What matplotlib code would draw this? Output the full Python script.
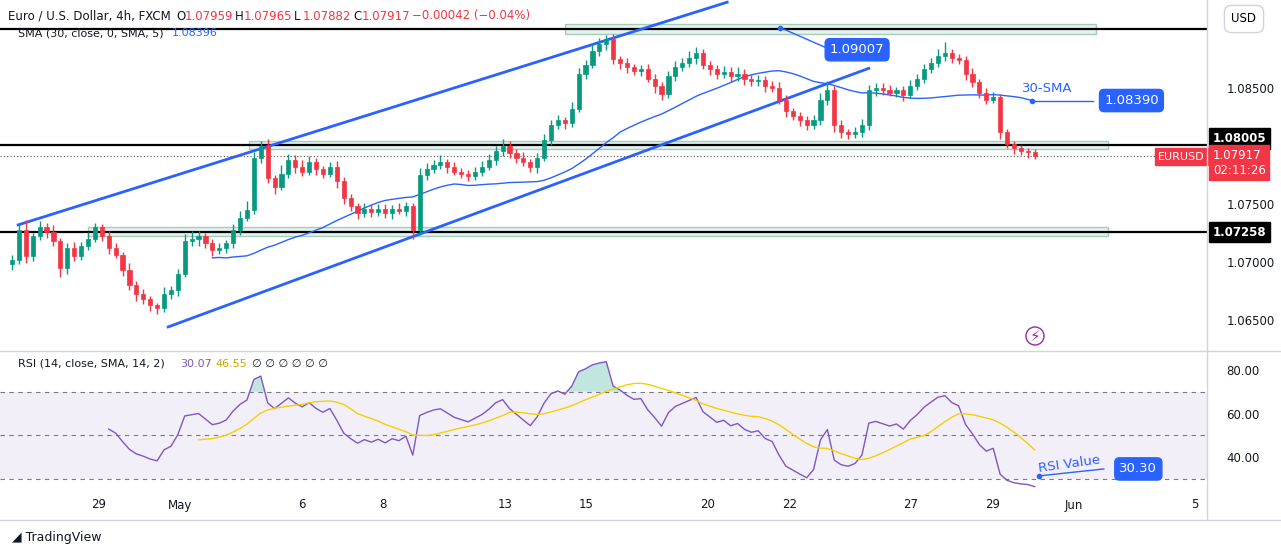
import numpy as np
import matplotlib
matplotlib.use("Agg")
import matplotlib.pyplot as plt
from matplotlib.patches import Rectangle
import matplotlib.transforms as mtrans

# ---------------- data ----------------
closes = [
 1.0702,1.0728,1.0705,1.0722,1.0730,1.0726,
 1.0718,1.0695,1.0712,1.0705,1.0714,1.0720,
 1.0730,1.0722,1.0712,1.0706,1.0693,1.0680,
 1.0672,1.0668,1.0663,1.0660,1.0672,1.0676,
 1.0690,1.0718,1.0720,1.0722,1.0716,1.0710,
 1.0712,1.0716,1.0728,1.0738,1.0745,1.0790,
 1.0800,1.0772,1.0765,1.0776,1.0788,1.0782,
 1.0778,1.0786,1.0780,1.0776,1.0782,1.0770,
 1.0755,1.0748,1.0742,1.0746,1.0743,1.0746,
 1.0742,1.0746,1.0744,1.0748,1.0728,1.0775,
 1.0780,1.0784,1.0786,1.0782,1.0778,1.0776,
 1.0774,1.0778,1.0782,1.0788,1.0796,1.0800,
 1.0794,1.0790,1.0786,1.0782,1.0790,1.0805,
 1.0818,1.0822,1.0820,1.0832,1.0862,1.0870,
 1.0882,1.0888,1.0892,1.0875,1.0872,1.0868,
 1.0865,1.0866,1.0858,1.0852,1.0845,1.0860,
 1.0868,1.0872,1.0876,1.0880,1.0870,1.0866,
 1.0862,1.0864,1.0860,1.0862,1.0858,1.0856,
 1.0857,1.0852,1.0850,1.0840,1.0830,1.0826,
 1.0822,1.0818,1.0822,1.0840,1.0848,1.0818,
 1.0812,1.0810,1.0812,1.0818,1.0848,1.0850,
 1.0848,1.0846,1.0848,1.0844,1.0852,1.0858,
 1.0866,1.0872,1.0878,1.0880,1.0876,1.0874,
 1.0862,1.0855,1.0846,1.0840,1.0842,1.0812,
 1.0802,1.0798,1.0796,1.0795,1.07917]
first_open = 1.0698
# wick sizes in pips (upper, lower)
up_wick = [
 4,6,8,3,5,4, 6,3,4,5,3,6, 4,3,5,4,3,6, 4,5,3,2,6,3,
 4,6,7,5,3,4, 4,3,5,6,8,5, 4,6,3,8,5,4, 6,5,4,3,4,5,
 3,4,3,5,4,4, 4,3,5,4,3,6, 5,4,6,3,4,3, 3,4,5,5,4,6,
 4,3,5,3,4,5, 4,5,3,6,5,4, 6,5,4,5,3,4, 3,4,5,4,3,5,
 5,4,6,5,4,3, 4,5,4,6,4,3, 4,3,4,5,4,3, 3,4,5,6,8,4,
 4,3,4,5,5,4, 4,5,3,4,5,4, 5,4,6,10,4,3, 4,5,3,4,5,3,
 3,2,3,2,2]
dn_wick = [
 5,4,6,4,3,5, 4,8,5,4,3,4, 3,4,5,3,5,4, 6,4,5,5,3,4,
 5,3,4,6,4,5, 3,4,4,5,3,4, 5,4,6,3,4,5, 4,3,5,4,3,6,
 5,4,5,3,4,3, 4,5,3,4,8,5, 4,3,4,5,3,4, 4,3,4,3,4,5,
 4,5,3,4,5,3, 4,3,5,4,3,4, 3,4,5,4,6,5, 4,5,3,6,5,4,
 4,3,4,5,4,5, 4,3,5,4,5,4, 4,5,3,4,5,4, 5,4,3,4,5,6,
 5,4,3,4,4,5, 4,3,4,5,3,4, 4,3,4,5,4,3, 5,4,5,4,3,6,
 4,5,4,5,3]

tick_labels = ["29", "May", "6", "8", "13", "15", "20", "22", "27", "29", "Jun", "5"]
tick_days = [0, 2, 5, 7, 10, 12, 15, 17, 20, 22, 24, 27]
price_ticks = [1.065, 1.070, 1.075, 1.085]
rsi_ticks = [40, 60, 80]
levels = [1.09007, 1.08005, 1.07258]
sma_last, rsi_last = 1.08390, 30.30
# channel anchors (candle index, price)
upper_chan = [(0.9, 1.0732), (103.5, 1.0924)]
lower_chan = [(22.6, 1.0644), (124.0, 1.0867)]

# ---------------- computations ----------------
c = np.array(closes)
o = np.array([first_open] + closes[:-1])
h = np.maximum(o, c) + np.array(up_wick) * 1e-4
l = np.minimum(o, c) - np.array(dn_wick) * 1e-4
n = len(c)
x = np.arange(n)
sma = np.full(n, np.nan)
for i in range(29, n):
    sma[i] = c[i-29:i+1].mean()
d = np.diff(c)
gain = np.where(d > 0, d, 0.0); loss = np.where(d < 0, -d, 0.0)
rsi = np.full(n, np.nan)
ag, al = gain[:14].mean(), loss[:14].mean()
rsi[14] = 100 - 100 / (1 + ag / al)
for i in range(15, n):
    ag = (ag * 13 + gain[i-1]) / 14; al = (al * 13 + loss[i-1]) / 14
    rsi[i] = 100 - 100 / (1 + ag / al)
rsi_ma = np.full(n, np.nan)
for i in range(27, n):
    rsi_ma[i] = np.nanmean(rsi[i-13:i+1])

# ---------------- figure ----------------
W, H = 1281, 554
fig = plt.figure(figsize=(W/100, H/100), dpi=100)
fig.patch.set_facecolor("white")
px = 6.91
x0 = -12/px
x1 = (1207-12)/px
tick_pos = [(99-12)/px + dd*40.6/px for dd in tick_days]

ax = fig.add_axes([0, 1-350/H, 1207/W, 350/H])
ax2 = fig.add_axes([0, 1-492/H, 1207/W, 140/H])
GREEN, RED, BLUE = "#089981", "#f23645", "#2962ff"

for a in (ax, ax2):
    a.set_xlim(x0, x1)
    for s in a.spines.values():
        s.set_visible(False)
    a.yaxis.tick_right()
    a.tick_params(axis="y", length=0, labelsize=8.5, colors="#131722", pad=14)
    a.tick_params(axis="x", length=0)
    a.set_xticks([])

ax.set_ylim(1.06241, 1.09259)
ax.set_yticks(price_ticks)
ax.set_yticklabels([f"{v:.5f}" for v in price_ticks])

# rectangles (zones)
zones = [(80.0, 156.9, 1.0897, 1.0905), (34.3, 158.6, 1.0797, 1.0804), (11.0, 158.6, 1.0722, 1.0730)]
for xa, xb, ya, yb in zones:
    ax.add_patch(Rectangle((xa, ya), xb-xa, yb-ya, facecolor="#b2dfdb", alpha=0.35,
                           edgecolor="#1b7a3a", lw=1, zorder=2))
for lv in levels:
    ax.axhline(lv, color="black", lw=1.6, zorder=3)
for (xa, ya), (xb, yb) in (upper_chan, lower_chan):
    ax.plot([xa, xb], [ya, yb], color=BLUE, lw=2, zorder=3)
ax.plot(x, sma, color=BLUE, lw=1, zorder=4)
for i in range(n):
    col = GREEN if c[i] >= o[i] else RED
    ax.vlines(x[i], l[i], h[i], color=col, lw=1, zorder=5)
    ax.add_patch(Rectangle((x[i]-0.3, min(o[i], c[i])), 0.6, max(abs(c[i]-o[i]), 1.2e-5),
                           facecolor=col, edgecolor=col, lw=0.5, zorder=6))
ax.axhline(c[-1], color="#555", lw=0.8, ls=(0, (1, 2)), zorder=3)

# callouts
ax.plot([111.2, 118.5], [1.0902, 1.0883], color=BLUE, lw=1, zorder=7)
ax.plot([111.2], [1.0902], "o", color=BLUE, ms=3, zorder=7)
ax.text(122.3, 1.0883, "1.09007", color="white", fontsize=9.5, ha="center", va="center",
        bbox=dict(boxstyle="round,pad=0.35", fc=BLUE, ec=BLUE), zorder=8)
ax.text(149.8, 1.0850, "30-SMA", color=BLUE, fontsize=9.5, ha="center", va="center", zorder=8)
ax.plot([147.6, 156.5], [1.08392, 1.08392], color=BLUE, lw=1, zorder=7)
ax.plot([147.6], [1.08392], "o", color=BLUE, ms=3, zorder=7)
ax.text(162.0, 1.08392, f"{sma_last:.5f}", color="white", fontsize=9.5, ha="center", va="center",
        bbox=dict(boxstyle="round,pad=0.35", fc=BLUE, ec=BLUE), zorder=8)

# right axis labels
tr = mtrans.blended_transform_factory(ax.transAxes, ax.transData)
ax.text(1.005, levels[1] + 0.0006, f"{levels[1]:.5f}", transform=tr, color="white", fontsize=8.5,
        fontweight="bold", ha="left", va="center",
        bbox=dict(boxstyle="square,pad=0.3", fc="black", ec="black"), zorder=9, clip_on=False)
ax.text(1.005, levels[2], f"{levels[2]:.5f}", transform=tr, color="white", fontsize=8.5,
        fontweight="bold", ha="left", va="center",
        bbox=dict(boxstyle="square,pad=0.3", fc="black", ec="black"), zorder=9, clip_on=False)
ax.text(0.998, c[-1] - 0.0001, "EURUSD", transform=tr, color="white", fontsize=8, ha="right", va="center",
        bbox=dict(boxstyle="square,pad=0.3", fc=RED, ec=RED), clip_on=False, zorder=9)
ax.text(1.005, c[-1] - 0.0006, f"{c[-1]:.5f}\n02:11:26", transform=tr, color="white", fontsize=8.5,
        ha="left", va="center", linespacing=1.2,
        bbox=dict(boxstyle="square,pad=0.3", fc=RED, ec=RED), clip_on=False, zorder=9)
fig.text(1244/W, 1-19/H, "USD", fontsize=8.5, ha="center", va="center",
         bbox=dict(boxstyle="round,pad=0.6", fc="white", ec="#d1d4dc"))
fig.text(1035/W, 1-336/H, "⚡", fontsize=11, color="#9c27b0", ha="center", va="center",
         fontfamily="DejaVu Sans",
         bbox=dict(boxstyle="circle,pad=0.1", fc="white", ec="#9c27b0"))

# headers
fig.text(8/W, 1-16/H, "Euro / U.S. Dollar, 4h, FXCM", fontsize=8.5, color="#131722", va="center")
hx = 176
for lab, val in [("O", "1.07959"), ("H", "1.07965"), ("L", "1.07882"), ("C", "1.07917")]:
    fig.text(hx/W, 1-16/H, lab, fontsize=8.5, color="#131722", va="center")
    fig.text((hx+9)/W, 1-16/H, val, fontsize=8.5, color=RED, va="center")
    hx += 59
fig.text(hx/W, 1-16/H, "−0.00042 (−0.04%)", fontsize=8.5, color=RED, va="center")
fig.text(18/W, 1-33/H, "SMA (30, close, 0, SMA, 5)", fontsize=8, color="#131722", va="center")
fig.text(172/W, 1-33/H, "1.08396", fontsize=8, color=BLUE, va="center")
fig.text(18/W, 1-364/H, "RSI (14, close, SMA, 14, 2)", fontsize=8, color="#131722", va="center")
fig.text(180/W, 1-364/H, "30.07", fontsize=8, color="#7e57c2", va="center")
fig.text(215/W, 1-364/H, "46.55", fontsize=8, color="#c9a800", va="center")
fig.text(252/W, 1-364/H, "∅ ∅ ∅ ∅ ∅ ∅", fontsize=8, color="#131722", va="center")

# RSI pane
ax2.set_ylim(23.9, 88.3)
ax2.set_yticks(rsi_ticks)
ax2.set_yticklabels([f"{v:.2f}" for v in rsi_ticks])
ax2.axhspan(30, 70, color="#7e57c2", alpha=0.09, lw=0)
for lv in (30, 50, 70):
    ax2.axhline(lv, color="#787b86", lw=0.8, ls=(0, (4, 4)))
ax2.fill_between(x, 70, rsi, where=rsi > 70, interpolate=True, color=GREEN, alpha=0.25, lw=0)
ax2.plot(x, rsi, color="#7e57c2", lw=1)
ax2.plot(x, rsi_ma, color="#f5d000", lw=1)
ax2.plot([148.6, 158], [31.3, 34.5], color=BLUE, lw=1)
ax2.plot([148.6], [31.3], "o", color=BLUE, ms=3)
ax2.text(153.0, 36.5, "RSI Value", color=BLUE, fontsize=9.5, ha="center", va="center", rotation=8)
ax2.text(163.0, 34.5, f"{rsi_last:.2f}", color="white", fontsize=9.5, ha="center", va="center",
         bbox=dict(boxstyle="round,pad=0.35", fc=BLUE, ec=BLUE))

# separators and x axis
fig.add_artist(plt.Line2D([1207/W, 1207/W], [1-520/H, 1], color="#d1d4dc", lw=1))
fig.add_artist(plt.Line2D([0, 1], [1-351/H, 1-351/H], color="#d1d4dc", lw=1))
fig.add_artist(plt.Line2D([0, 1], [1-520/H, 1-520/H], color="#d1d4dc", lw=1))
for tp, tl in zip(tick_pos, tick_labels):
    xf = (tp - x0) / (x1 - x0) * 1207 / W
    fig.text(xf, 1-505/H, tl, fontsize=8.5, color="#131722", ha="center", va="center")
fig.text(12/W, 1-537/H, "◢ TradingView", fontsize=9, color="#131722", va="center")

fig.savefig("out.png", dpi=100)
